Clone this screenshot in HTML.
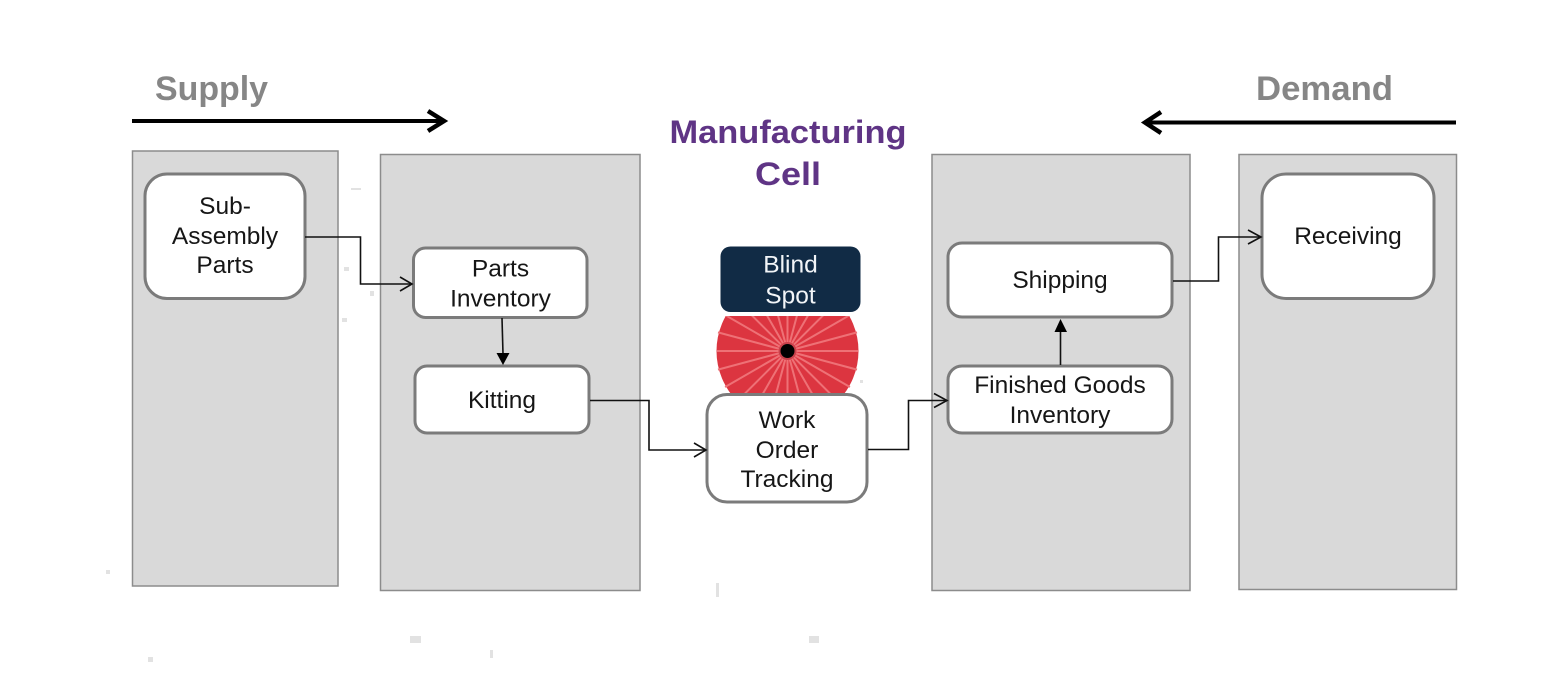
<!DOCTYPE html>
<html><head><meta charset="utf-8"><style>
html,body{margin:0;padding:0;background:#fff;width:1567px;height:688px;overflow:hidden}
svg{display:block}
text{font-family:"Liberation Sans",sans-serif}
.p{fill:#d9d9d9;stroke:#8c8c8c;stroke-width:1.5}
.b{fill:#fff;stroke:#7b7b7b;stroke-width:3}
.t{font-size:24.5px;fill:#161616;text-anchor:middle}
.h{font-size:34px;font-weight:bold;fill:#868686}
.m{font-size:32px;font-weight:bold;fill:#5f3485;text-anchor:middle}
.c{fill:none;stroke:#111;stroke-width:1.6}
.a{fill:none;stroke:#000;stroke-width:4.5}
.s{fill:#e2e2e2}
</style></head><body>
<svg width="1567" height="688" viewBox="0 0 1567 688" xmlns="http://www.w3.org/2000/svg">
<rect class="p" x="132.500" y="151" width="205.500" height="435"/>
<rect class="p" x="380.500" y="154.500" width="259.500" height="436"/>
<rect class="p" x="932" y="154.500" width="258" height="436"/>
<rect class="p" x="1239" y="154.500" width="217.500" height="435"/>

<text class="h" x="155" y="100" textLength="113" lengthAdjust="spacingAndGlyphs">Supply</text>
<text class="h" x="1256" y="100" textLength="137" lengthAdjust="spacingAndGlyphs">Demand</text>
<path d="M132 121H445" stroke="#000" stroke-width="4" fill="none"/>
<path class="a" d="M428 111L444 121L428 131"/>
<path d="M1456 122.500H1144" stroke="#000" stroke-width="4" fill="none"/>
<path class="a" d="M1161 112L1145 122.500L1161 133"/>

<text class="m" x="788" y="143" textLength="237" lengthAdjust="spacingAndGlyphs">Manufacturing</text>
<text class="m" x="788" y="185" textLength="66" lengthAdjust="spacingAndGlyphs">Cell</text>

<!-- red circle -->
<clipPath id="cp"><rect x="700" y="316" width="175" height="80"/></clipPath>
<g clip-path="url(#cp)">
<circle cx="787.500" cy="351" r="71" fill="#dc3540"/>
<g stroke="#ee7176" stroke-width="2">
<path d="M717 351H858M718 332.400L857 369.600M725.100 315L849.900 387M736.600 300.100L838.400 401.900M751.500 288.600L823.500 413.400M768.900 281.500L806.100 420.500M787.500 279V423M806.100 281.500L768.900 420.500M823.500 288.600L751.500 413.400M838.400 300.100L736.600 401.900M849.900 315L725.100 387M857 332.400L718 369.600"/>
</g>
</g>
<circle cx="787.500" cy="351" r="9" fill="#c9404a"/>
<circle cx="787.500" cy="351" r="7" fill="#000"/>

<rect x="720.500" y="246.500" width="140" height="65.500" rx="10" fill="#112b45"/>
<text class="t" x="790.500" y="272.500" style="fill:#f2f5f8">Blind</text>
<text class="t" x="790.500" y="303.500" style="fill:#f2f5f8">Spot</text>

<!-- boxes -->
<rect class="b" x="145" y="174" width="160" height="124.500" rx="22"/>
<text class="t" x="225" y="214">Sub-</text>
<text class="t" x="225" y="244">Assembly</text>
<text class="t" x="225" y="273">Parts</text>

<rect class="b" x="413.500" y="248" width="173.500" height="69.500" rx="12"/>
<text class="t" x="500.500" y="276.500">Parts</text>
<text class="t" x="500.500" y="306.500">Inventory</text>

<rect class="b" x="415" y="366" width="174" height="67" rx="12"/>
<text class="t" x="502" y="408">Kitting</text>

<rect class="b" x="707" y="394.500" width="160" height="107.500" rx="20"/>
<text class="t" x="787" y="428">Work</text>
<text class="t" x="787" y="458">Order</text>
<text class="t" x="787" y="487">Tracking</text>

<rect class="b" x="948" y="243" width="224" height="74" rx="14"/>
<text class="t" x="1060" y="288">Shipping</text>

<rect class="b" x="948" y="366" width="224" height="67" rx="14"/>
<text class="t" x="1060" y="393">Finished Goods</text>
<text class="t" x="1060" y="423">Inventory</text>

<rect class="b" x="1262" y="174" width="172" height="124.500" rx="24"/>
<text class="t" x="1348" y="244">Receiving</text>

<!-- connectors -->
<path class="c" d="M305 237H360.500V284H412"/>
<path class="c" d="M400 277L412 284L400 291"/>
<path class="c" d="M502 318L503 354"/>
<path d="M496.500 353H509.500L503 365Z" fill="#000"/>
<path class="c" d="M590 400.500H649V450H706"/>
<path class="c" d="M694 443L706 450L694 457"/>
<path class="c" d="M868 449.500H908.500V400.500H947"/>
<path class="c" d="M934 393.500L947 400.500L934 407.500"/>
<path class="c" d="M1060.500 365V331"/>
<path d="M1054.500 332H1067L1060.500 319Z" fill="#000"/>
<path class="c" d="M1173 281H1218.500V237H1261"/>
<path class="c" d="M1248 230L1261 237L1248 244"/>

<!-- specks -->
<rect class="s" x="410" y="636" width="11" height="7"/>
<rect class="s" x="809" y="636" width="10" height="7"/>
<rect class="s" x="148" y="657" width="5" height="5"/>
<rect class="s" x="106" y="570" width="4" height="4"/>
<rect class="s" x="490" y="650" width="3" height="8"/>
<rect class="s" x="716" y="583" width="3" height="14"/>
<rect class="s" x="351" y="188" width="10" height="2"/>
<rect class="s" x="342" y="318" width="5" height="4"/>
<rect class="s" x="370" y="291" width="4" height="5"/>
<rect class="s" x="344" y="267" width="5" height="4"/>
<rect class="s" x="860" y="380" width="3" height="3"/>
</svg>
</body></html>
